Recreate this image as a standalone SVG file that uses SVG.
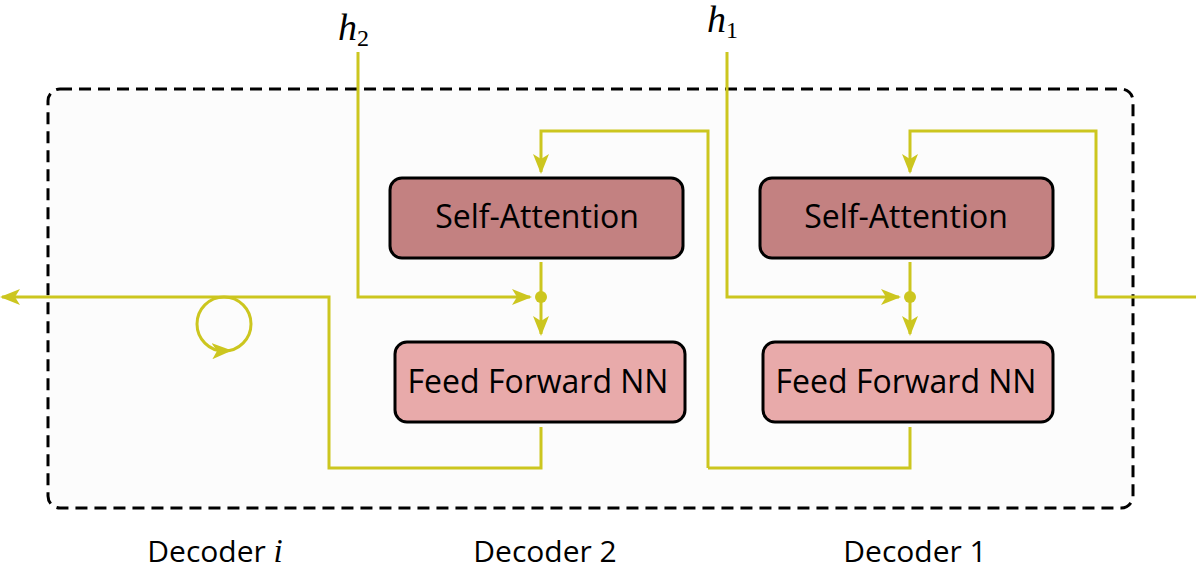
<svg xmlns="http://www.w3.org/2000/svg" width="1196" height="570" viewBox="0 0 1196 570">
<defs>
<marker id="arr" viewBox="0 0 20 16" refX="18" refY="8" markerWidth="20" markerHeight="16" markerUnits="userSpaceOnUse" orient="auto">
<path d="M0,0 L20,8 L0,16 L5,8 z" fill="#ccc61f"/>
</marker>
<style>
.c{fill:none;stroke:#ccc61f;stroke-width:3}
.sa{fill:#c38181;stroke:#000;stroke-width:3}
.ff{fill:#e8aaaa;stroke:#000;stroke-width:3}
.t{font-family:"Open Sans","Noto Sans",sans-serif;font-size:32px;fill:#000;text-anchor:middle}
.d{font-family:"Open Sans","Noto Sans",sans-serif;font-size:30px;fill:#000;text-anchor:middle}
.h{font-family:"Liberation Serif",serif;font-style:italic;font-size:38px}
.s{font-family:"Liberation Serif",serif;font-size:24px}
</style>
</defs>
<rect id="frame" x="48" y="89" width="1085" height="419" rx="12" fill="#fcfcfc" stroke="#000" stroke-width="3" stroke-dasharray="12,7"/>
<g id="connectors">
<path class="c" d="M358,52 V297 H530" marker-end="url(#arr)"/>
<path class="c" d="M541,262 V334" marker-end="url(#arr)"/>
<path class="c" d="M541,427 V468 H329 V297 H2" marker-end="url(#arr)"/>
<path class="c" d="M708,468 V131 H541 V172" marker-end="url(#arr)"/>
<path class="c" d="M910,427 V468 H708"/>
<path class="c" d="M727,52 V297 H899" marker-end="url(#arr)"/>
<path class="c" d="M910,262 V334" marker-end="url(#arr)"/>
<path class="c" d="M1196,297 H1096 V131 H910 V172" marker-end="url(#arr)"/>
<circle class="c" cx="224" cy="324" r="27"/>
<path class="c" d="M218,351 L230,350.5" marker-end="url(#arr)"/>
<circle cx="541" cy="297" r="6" fill="#ccc61f"/>
<circle cx="910" cy="297" r="6" fill="#ccc61f"/>
</g>
<g id="sa2"><rect class="sa" x="390" y="178" width="293" height="80" rx="12"/><text class="t" x="537" y="228">Self-Attention</text></g>
<g id="ff2"><rect class="ff" x="395" y="342" width="290" height="80" rx="12"/><text class="t" x="538" y="393">Feed Forward NN</text></g>
<g id="sa1"><rect class="sa" x="760" y="178" width="293" height="80" rx="12"/><text class="t" x="906" y="228">Self-Attention</text></g>
<g id="ff1"><rect class="ff" x="763" y="342" width="290" height="80" rx="12"/><text class="t" x="906" y="393">Feed Forward NN</text></g>
<g id="labels">
<text x="338" y="40"><tspan class="h">h</tspan><tspan class="s" dy="6">2</tspan></text>
<text x="707" y="32"><tspan class="h">h</tspan><tspan class="s" dy="6">1</tspan></text>
<text class="d" x="215" y="562">Decoder <tspan style="font-family:'Liberation Serif',serif;font-style:italic;font-size:33px">i</tspan></text>
<text class="d" x="545" y="562">Decoder 2</text>
<text class="d" x="915" y="562">Decoder 1</text>
</g>
</svg>
